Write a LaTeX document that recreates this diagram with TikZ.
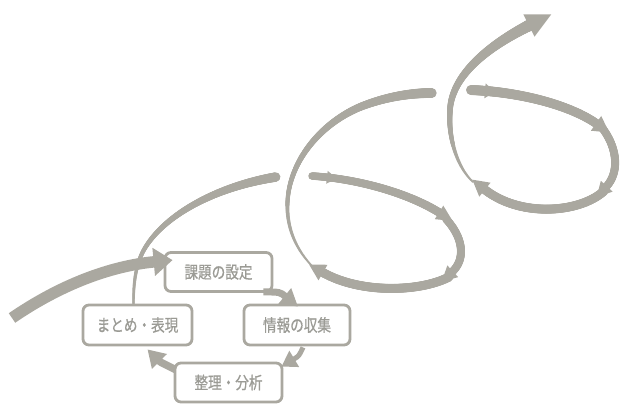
\documentclass[tikz,border=0pt]{standalone}
\usepackage{fontspec}
\newfontfamily\jp[FakeStretch=0.8,FakeBold=0.6]{Noto Sans CJK JP}
\usetikzlibrary{decorations.markings,arrows.meta,calc}
\definecolor{rib}{RGB}{170,168,160}
\definecolor{txt}{RGB}{155,155,149}
% tapered ribbon along a path: #1 path, #2 start width, #3 end width
\newcommand\ribbon[3]{%
  \path[decorate,decoration={markings,mark=between positions 0 and 1 step 0.5pt with {%
    \pgfmathsetmacro\rr{0.5*(#2+(#3-(#2))*\pgfkeysvalueof{/pgf/decoration/mark info/distance from start}/\pgfdecoratedpathlength)}%
    \fill[rib] (0,0) circle[radius=\rr pt];}}] #1;}
% arrow head on a path: #1 path, #2 position, #3 length, #4 half width
\newcommand\rhead[4]{%
  \path[decorate,decoration={markings,mark=at position #2 with {%
    \fill[rib] (-1,-#4) -- (#3,0) -- (-1,#4) -- cycle;}}] #1;}
\begin{document}
\begin{tikzpicture}[x=1pt,y=-1pt,
  box/.style={draw=rib, line width=2.8pt, rounded corners=6pt, fill=white,
    minimum width=107pt, minimum height=39pt, inner sep=0pt, text=txt,
    font=\jp\fontsize{17pt}{18pt}\selectfont},
  cyc/.style={draw=rib, line cap=butt}]
\path[use as bounding box] (0,0) rectangle (621,404);

% boxes (named first so ribbons can start from them)
\node[box] (k) at (218.5,272) {課題の設定};
\node[box, minimum width=106pt, minimum height=40pt] (j) at (297,325) {情報の収集};
\node[box] (s) at (228.5,382.5) {整理・分析};
\node[box, minimum width=109pt, minimum height=40pt] (m) at (137.5,325) {まとめ・表現};

% ---- ribbon rising from まとめ・表現
\ribbon{($(m.north)+(-4,0)$) .. controls (133.5,285) and (135,264.5) .. (145,248) .. controls (165,215) and (215,187) .. (276,177)}{2.5}{9.5}

% ---- first loop
\def\pa{(312,176) .. controls (360,179) and (410,194) .. (440,213)}
\ribbon{\pa}{7.5}{8.5}\rhead{\pa}{0.999}{15}{8}\rhead{\pa}{16pt}{9}{6.5}
\def\pb{(446,219) .. controls (462,236) and (467,258) .. (452,272)}
\ribbon{\pb}{8}{8}\rhead{\pb}{0.999}{14}{8}
\def\pc{(449,277) .. controls (420,292) and (360,294) .. (322,272)}
\ribbon{\pc}{9}{9}\rhead{\pc}{0.999}{15}{9}
\ribbon{(312,266) .. controls (293,246) and (285,222) .. (288,196) .. controls (292,160) and (320,124) .. (360,107) .. controls (385,97) and (410,93) .. (432,93)}{2}{10}

% ---- second loop
\def\qa{(471,90) .. controls (520,92) and (570,105) .. (597,124)}
\ribbon{\qa}{10}{9}\rhead{\qa}{0.999}{15}{9}\rhead{\qa}{15pt}{9}{7.5}
\def\qb{(603,129) .. controls (617,148) and (620,172) .. (606,187)}
\ribbon{\qb}{8}{8}\rhead{\qb}{0.999}{14}{8}
\def\qc{(604,191) .. controls (580,213) and (520,218) .. (484,189)}
\ribbon{\qc}{9}{9}\rhead{\qc}{0.999}{15}{9}
\def\qd{(473,182) .. controls (456,166) and (448,136) .. (450,110) .. controls (452,70) and (500,40) .. (530,25)}
\ribbon{\qd}{2}{11.5}\rhead{\qd}{0.999}{24}{12.5}

% ---- entry arrow
\coordinate (in) at (12,318);
\draw[cyc, line width=11.5pt, -{Triangle[length=19pt,width=27pt]}]
  (in) .. controls (60,285) and (110,266) .. ($(k.north west)+(9,9)$);

% ---- small cycle
\draw[cyc, line width=7pt, -{Triangle[length=17pt,width=19pt]}]
  ($(k.south east)+(-10,-1)$) .. controls (280,292) .. ($(j.north)+(1,3)$);
\draw[cyc, line width=5pt, -{Triangle[length=15pt,width=18pt]}]
  ($(j.south)+(6,1)$) .. controls (299,356) .. ($(s.north east)+(-2,5)$);
\draw[cyc, line width=7.5pt, -{Triangle[length=17pt,width=20pt]}]
  ($(s.north west)+(2,8)$) .. controls (160,362) .. ($(m.south)+(10,3)$);
\end{tikzpicture}
\end{document}
